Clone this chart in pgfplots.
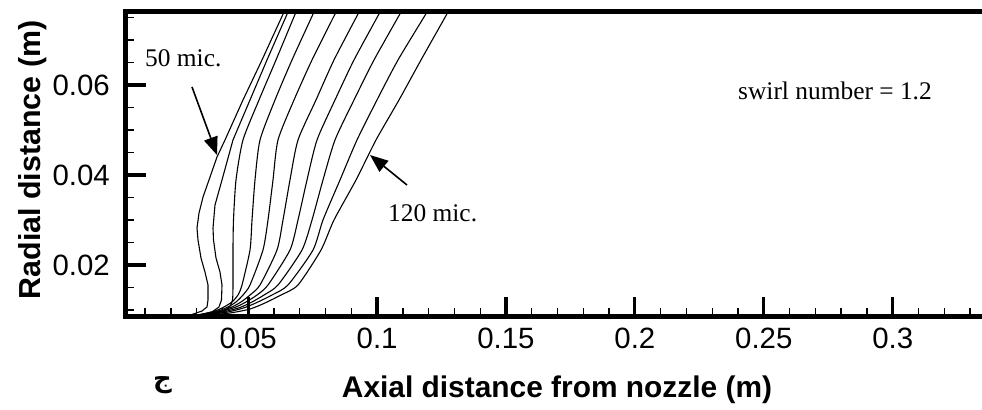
\documentclass[border=0pt]{standalone}
\usepackage{pgfplots}
\pgfplotsset{compat=1.18}
\usepackage{fontspec}
\setmainfont{Liberation Sans}
\newfontfamily\serifnote{Liberation Serif}
\newfontfamily\arabicfont[Script=Arabic]{DejaVu Sans}
\usetikzlibrary{arrows.meta}
\TeXXeTstate=1

\begin{document}
\begin{tikzpicture}
\begin{axis}[
  at={(0bp,0bp)}, anchor=south west,
  scale only axis, width=864.5bp, height=304.8bp,
  xmin=0.002405, xmax=0.33775, ymin=0.008556, ymax=0.076289,
  scaled x ticks=false, scaled y ticks=false,
  axis line style={line width=5bp},
  tick align=inside, xtick pos=left, ytick pos=left,
  xtick={0.05,0.1,0.15,0.2,0.25,0.3},
  xticklabels={0.05,0.1,0.15,0.2,0.25,0.3},
  minor xtick={0.01,0.02,0.03,0.04,0.06,0.07,0.08,0.09,0.11,0.12,0.13,0.14,0.16,0.17,0.18,0.19,0.21,0.22,0.23,0.24,0.26,0.27,0.28,0.29,0.31,0.32,0.33},
  ytick={0.02,0.04,0.06},
  yticklabels={0.02,0.04,0.06},
  minor ytick={0.01,0.015,0.025,0.03,0.035,0.045,0.05,0.055,0.065,0.07,0.075},
  major tick length=20bp, minor tick length=9bp,
  major tick style={line width=3.2bp, black},
  minor tick style={line width=1.3bp, black},
  ticklabel style={font=\fontsize{29.5}{32}\selectfont},
  xticklabel style={anchor=north, inner xsep=0pt, inner ysep=0pt, yshift=-11.5bp},
  yticklabel style={anchor=east, inner ysep=0pt, inner xsep=15.5bp},
  clip=true,
  curve/.style={black, line width=1.1bp, no markers},
  scurve/.style={black, line width=1.1bp, no markers, smooth, tension=0.4},
]
% droplet trajectories, 50 mic. (left) to 120 mic. (right)
\addplot[curve] coordinates {(0.02161,0.00856) (0.02820,0.00900) (0.03208,0.00978) (0.03402,0.01067) (0.03441,0.01222) (0.03441,0.01556) (0.03324,0.01844) (0.03169,0.02156) (0.03053,0.02556) (0.03014,0.02822) (0.03092,0.03156) (0.03247,0.03511) (0.03479,0.03889) (0.03790,0.04400) (0.04100,0.04778) (0.04798,0.05667) (0.05535,0.06556) (0.06389,0.07622) (0.06505,0.07778)};
\addplot[curve] coordinates {(0.02161,0.00856) (0.03053,0.00889) (0.03596,0.00956) (0.03867,0.01067) (0.03964,0.01222) (0.03984,0.01556) (0.03906,0.01844) (0.03751,0.02156) (0.03654,0.02556) (0.03635,0.02822) (0.03712,0.03333) (0.03984,0.03889) (0.04410,0.04778) (0.05070,0.05667) (0.05729,0.06556) (0.06544,0.07622) (0.06660,0.07778)};
\addplot[scurve] coordinates {(0.02161,0.00856) (0.03247,0.00889) (0.03906,0.00956) (0.04255,0.01056) (0.04391,0.01222) (0.04410,0.01556) (0.04410,0.02333) (0.04430,0.03000) (0.04527,0.03889) (0.04798,0.04778) (0.05419,0.05667) (0.06078,0.06556) (0.06854,0.07622) (0.06971,0.07778)};
\addplot[scurve] coordinates {(0.02161,0.00856) (0.03130,0.00900) (0.03712,0.00978) (0.04061,0.01067) (0.04372,0.01178) (0.04604,0.01333) (0.04760,0.01556) (0.05070,0.02333) (0.05148,0.03000) (0.05264,0.03889) (0.05458,0.04778) (0.06040,0.05667) (0.06699,0.06556) (0.07552,0.07622) (0.07669,0.07778)};
\addplot[scurve] coordinates {(0.02161,0.00856) (0.03208,0.00900) (0.03829,0.00978) (0.04217,0.01067) (0.04527,0.01178) (0.04798,0.01333) (0.05070,0.01556) (0.05574,0.02333) (0.05768,0.03000) (0.05962,0.03889) (0.06156,0.04778) (0.06777,0.05667) (0.07475,0.06556) (0.08406,0.07622) (0.08522,0.07778)};
\addplot[scurve] coordinates {(0.02161,0.00856) (0.03247,0.00900) (0.03945,0.00978) (0.04372,0.01067) (0.04721,0.01178) (0.05070,0.01333) (0.05458,0.01556) (0.06117,0.02333) (0.06350,0.03000) (0.06621,0.03889) (0.06932,0.04778) (0.07630,0.05667) (0.08328,0.06556) (0.09298,0.07622) (0.09414,0.07778)};
\addplot[scurve] coordinates {(0.02161,0.00856) (0.03286,0.00900) (0.04023,0.00978) (0.04527,0.01067) (0.04915,0.01178) (0.05341,0.01333) (0.05768,0.01556) (0.06621,0.02333) (0.06932,0.03000) (0.07281,0.03889) (0.07669,0.04778) (0.08367,0.05667) (0.09104,0.06556) (0.10113,0.07622) (0.10229,0.07778)};
\addplot[scurve] coordinates {(0.02161,0.00856) (0.03324,0.00893) (0.04100,0.00967) (0.04682,0.01056) (0.05148,0.01178) (0.05613,0.01333) (0.06156,0.01556) (0.07087,0.02333) (0.07475,0.03000) (0.07901,0.03889) (0.08367,0.04778) (0.09104,0.05667) (0.09880,0.06556) (0.10927,0.07622) (0.11044,0.07778)};
\addplot[scurve] coordinates {(0.02161,0.00856) (0.03324,0.00889) (0.04217,0.00956) (0.04876,0.01056) (0.05380,0.01178) (0.05923,0.01333) (0.06544,0.01556) (0.07514,0.02333) (0.07901,0.03000) (0.08561,0.03889) (0.09220,0.04778) (0.09996,0.05667) (0.10811,0.06556) (0.11936,0.07622) (0.12052,0.07778)};
\addplot[scurve] coordinates {(0.02161,0.00856) (0.03324,0.00878) (0.04294,0.00933) (0.05070,0.01022) (0.05652,0.01156) (0.06272,0.01333) (0.06932,0.01556) (0.07824,0.02333) (0.08328,0.03000) (0.09182,0.03889) (0.09957,0.04778) (0.10850,0.05667) (0.11703,0.06556) (0.12750,0.07622) (0.12867,0.07778)};

% annotations
\node[anchor=base west, inner sep=0pt, font=\serifnote\fontsize{25.5}{30}\selectfont] at (axis cs:0.00997,0.06407) {50 mic.};
\node[anchor=base west, inner sep=0pt, font=\serifnote\fontsize{25.5}{30}\selectfont] at (axis cs:0.10423,0.02956) {120 mic.};
\node[anchor=base east, inner sep=0pt, font=\serifnote\fontsize{25.5}{30}\selectfont] at (axis cs:0.31524,0.05682) {swirl number = 1.2};
\draw[black, line width=1.6bp, -{Triangle[length=18bp,width=14bp]}] (axis cs:0.02820,0.05956) -- (axis cs:0.03790,0.04444);
\draw[black, line width=1.6bp, -{Triangle[length=18bp,width=14bp]}] (axis cs:0.11160,0.03778) -- (axis cs:0.09725,0.04444);
\end{axis}

% axis titles
\node[anchor=base, inner sep=0pt, font=\fontsize{30}{36}\selectfont\bfseries] at (431.5bp,-80.5bp) {Axial distance from nozzle (m)};
\node[rotate=90, anchor=base, inner sep=0pt, font=\fontsize{30.5}{36}\selectfont\bfseries] at (-84.5bp,156.5bp) {Radial distance (m)};
\node[inner sep=0pt, font=\arabicfont\bfseries\fontsize{26}{30}\selectfont] at (37bp,-69bp) {\beginR ج\endR};

\pgfresetboundingbox
\path[use as bounding box] (-125.5bp,-93.5bp) rectangle (856.5bp,316.5bp);
\end{tikzpicture}
\end{document}
